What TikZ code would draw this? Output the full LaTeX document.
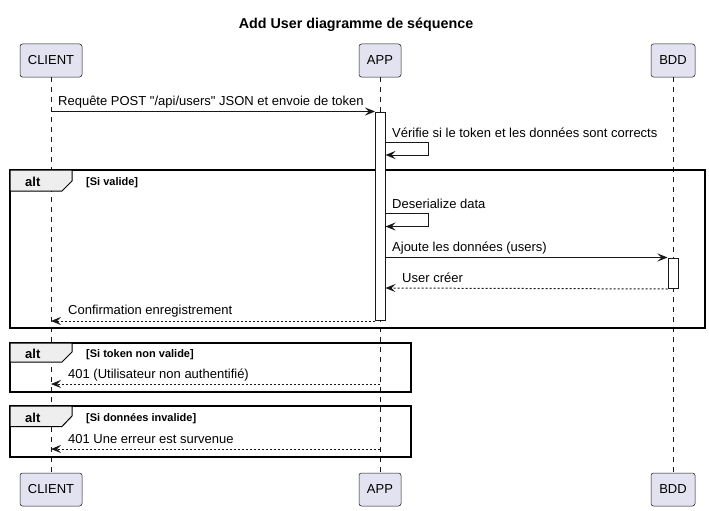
\documentclass[tikz,border=0pt]{standalone}
\usepackage{fontspec}
\setmainfont{Liberation Sans}[Ligatures=TeXOff]
\usetikzlibrary{arrows.meta,calc}
\definecolor{partfill}{HTML}{E2E2F0}
\definecolor{ink}{HTML}{181818}
\definecolor{tabfill}{HTML}{EEEEEE}
\begin{document}
\begin{tikzpicture}[x=1pt,y=-1pt,
  part/.style={draw=ink, line width=0.5pt, fill=partfill, rounded corners=2.5pt, minimum height=33pt, inner sep=0pt, font=\fontsize{13}{15}\selectfont},
  life/.style={draw=ink, line width=0.5pt, dash pattern=on 5pt off 5pt},
  act/.style={draw=ink, line width=1pt, fill=white, minimum width=10pt, inner sep=0pt, anchor=north},
  msg/.style={draw=ink, line width=1pt, -{Stealth[length=10pt,width=8pt,inset=4pt]}},
  ret/.style={msg, dash pattern=on 2pt off 2pt},
  lbl/.style={anchor=base west, inner sep=0pt, font=\fontsize{13}{15}\selectfont},
  frame/.style={draw=black, line width=1.5pt},
  tabshape/.style={draw=black, line width=1pt, fill=tabfill},
  altlbl/.style={anchor=base west, inner sep=0pt, font=\bfseries\fontsize{13}{15}\selectfont},
  guard/.style={anchor=base west, inner sep=0pt, font=\bfseries\fontsize{11}{13}\selectfont},
]
\useasboundingbox (0,0) rectangle (709,511);
\fill[white] (0,0) rectangle (709,511);

% title
\node[anchor=base, inner sep=0pt, font=\bfseries\fontsize{14.3}{16}\selectfont] (title) at (356,29) {Add User diagramme de séquence};

% participants
\node[part, minimum width=62pt] (cT) at (51,60.5) {CLIENT};
\node[part, minimum width=42pt] (aT) at (380,60.5) {APP};
\node[part, minimum width=44pt] (bT) at (673,60.5) {BDD};
\node[part, minimum width=62pt] (cB) at (51,489.5) {CLIENT};
\node[part, minimum width=42pt] (aB) at (380,489.5) {APP};
\node[part, minimum width=44pt] (bB) at (673,489.5) {BDD};

% lifelines
\draw[life] (cT.south) -- (cB.north);
\draw[life] (aT.south) -- (aB.north);
\draw[life] (bT.south) -- (bB.north);

% frames
\draw[frame] (10,170) rectangle (705,328);
\draw[tabshape] (10,170) -- (72,170) -- (72,181) -- (62,191) -- (10,191) -- cycle;
\node[altlbl] (alt1) at (25,186) {alt};
\node[guard] (g1) at (86,185) {[Si valide]};

\draw[frame] (10,343) rectangle (411,392);
\draw[tabshape] (10,343) -- (72,343) -- (72,352) -- (62,362) -- (10,362) -- cycle;
\node[altlbl] (alt2) at (25,358) {alt};
\node[guard] (g2) at (86,357) {[Si token non valide]};

\draw[frame] (10,406) rectangle (411,457);
\draw[tabshape] (10,406) -- (72,406) -- (72,416) -- (62,426.5) -- (10,426.5) -- cycle;
\node[altlbl] (alt3) at (25,422) {alt};
\node[guard] (g3) at (86,421) {[Si données invalide]};

% activation bars
\node[act, minimum height=208.5pt] (actA) at (380.5,111.5) {};
\node[act, minimum height=30.5pt] (actB) at (673,257.5) {};

% message 1
\coordinate (c1) at (cT |- actA.north);
\draw[msg] (c1) -- (actA.north west);
\node[lbl] (t1) at (58,105.5) {Requête POST "/api/users" JSON et envoie de token};

% self message : Vérifie
\coordinate (s1a) at (385.5,142);
\coordinate (s1b) at (428,142);
\coordinate (s1c) at (428,155);
\coordinate (s1d) at (385.5,155);
\draw[msg] (s1a) -- (s1b) -- (s1c) -- (s1d);
\node[lbl] (t2) at (392,137) {Vérifie si le token et les données sont corrects};

% self message : Deserialize
\coordinate (s2a) at (385.5,213.5);
\coordinate (s2b) at (428,213.5);
\coordinate (s2c) at (428,226.5);
\coordinate (s2d) at (385.5,226.5);
\draw[msg] (s2a) -- (s2b) -- (s2c) -- (s2d);
\node[lbl] (t3) at (392,208.5) {Deserialize data};

% Ajoute
\coordinate (a1) at (385.5,257.5);
\draw[msg] (a1) -- (actB.north west);
\node[lbl] (t4) at (392,251.5) {Ajoute les données (users)};

% User créer
\coordinate (u2) at (385.5,288);
\draw[ret] (actB.south west) -- (u2);
\node[lbl] (t5) at (402,282.5) {User créer};

% Confirmation
\coordinate (k2) at (cT |- actA.south);
\draw[ret] (actA.south west) -- (k2);
\node[lbl] (t6) at (68,314.5) {Confirmation enregistrement};

% 401 (non authentifie)
\coordinate (n1) at (380,384);
\coordinate (n2) at (51,384);
\draw[ret] (n1) -- (n2);
\node[lbl] (t7) at (68,378.5) {401 (Utilisateur non authentifié)};

% 401 erreur
\coordinate (e1) at (380,449);
\coordinate (e2) at (51,449);
\draw[ret] (e1) -- (e2);
\node[lbl] (t8) at (68,443.5) {401 Une erreur est survenue};
\end{tikzpicture}
\end{document}
